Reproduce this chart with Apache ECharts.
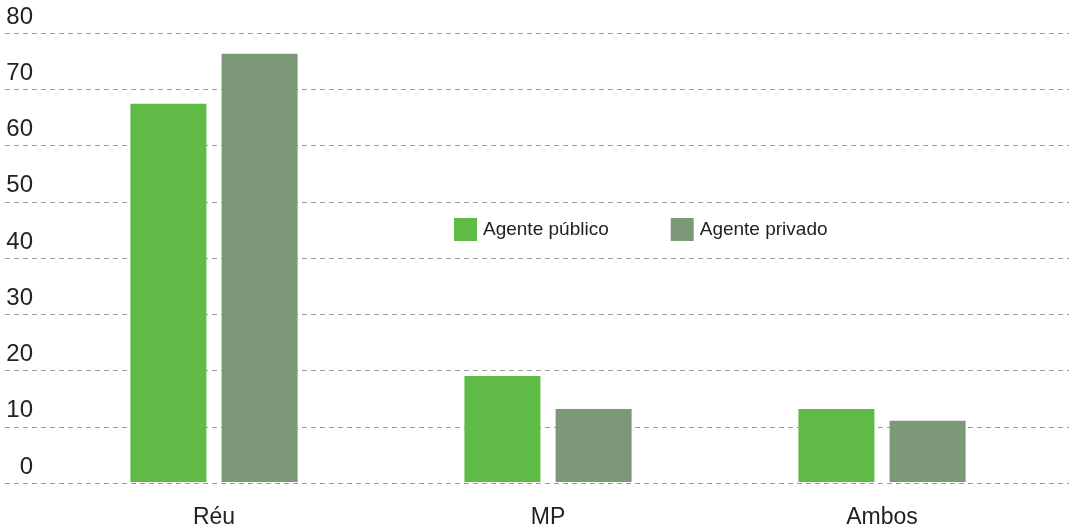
<!DOCTYPE html>
<html>
<head>
<meta charset="utf-8">
<script src="https://cdn.jsdelivr.net/npm/echarts@6/dist/echarts.min.js"></script>
<style>
  html, body { margin: 0; padding: 0; background: #fff; }
  #chart { width: 1069px; height: 529px; }
</style>
</head>
<body>
<div id="chart"></div>
<script>
const categories = ['Réu', 'MP', 'Ambos'];
const publico = [67.4, 18.9, 13.0];
const privado = [76.3, 13.0, 10.9];
const seriesNames = ['Agente público', 'Agente privado'];

const font = '"Liberation Sans", Arial, sans-serif';
const textColor = '#222';

const myChart = echarts.init(document.getElementById('chart'));

const option = {
  animation: false,
  textStyle: { fontFamily: font },
  legend: {
    data: seriesNames,
    left: 454,
    top: 218,
    padding: 0,
    itemWidth: 23,
    itemHeight: 23,
    itemGap: 62,
    icon: 'rect',
    textStyle: { fontSize: 19, color: textColor, fontFamily: font, padding: [3, 0, 0, 1] }
  },
  grid: [
    // gridlines + y labels across the full width
    { left: 5, right: 0, top: 33, bottom: 46 },
    // bars
    { left: 47, right: 20, top: 33, bottom: 46 }
  ],
  xAxis: [
    { type: 'category', gridIndex: 0, data: categories, show: false },
    {
      type: 'category', gridIndex: 1, data: categories,
      axisLine: { show: false },
      axisTick: { show: false },
      axisLabel: { fontSize: 23, color: textColor, margin: 24, fontFamily: font }
    }
  ],
  yAxis: [
    {
      type: 'value', gridIndex: 0, min: 0, max: 80, interval: 10,
      axisLine: { show: false },
      axisTick: { show: false },
      splitLine: { lineStyle: { color: '#9a9a9a', type: [5, 4], width: 1 } },
      axisLabel: {
        inside: true,
        align: 'right',
        verticalAlign: 'bottom',
        margin: 28,
        fontSize: 24,
        lineHeight: 24,
        padding: [0, 0, 4, 0],
        color: textColor,
        fontFamily: font
      }
    },
    { type: 'value', gridIndex: 1, min: 0, max: 80, interval: 10, show: false, splitLine: { show: false } }
  ],
  series: [
    {
      name: seriesNames[0],
      type: 'bar',
      xAxisIndex: 1,
      yAxisIndex: 1,
      data: publico,
      barWidth: 76,
      barGap: '20%',
      itemStyle: { color: '#5fba46' }
    },
    {
      name: seriesNames[1],
      type: 'bar',
      xAxisIndex: 1,
      yAxisIndex: 1,
      data: privado,
      barWidth: 76,
      barGap: '20%',
      itemStyle: { color: '#7c9879' }
    }
  ]
};

myChart.setOption(option);
</script>
</body>
</html>
